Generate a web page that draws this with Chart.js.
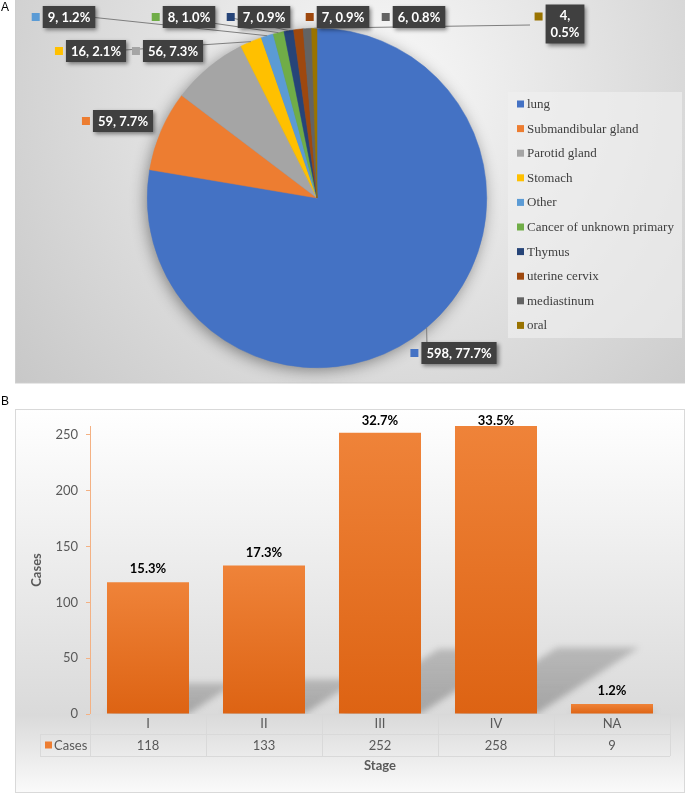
<!DOCTYPE html>
<html>
<head>
<meta charset="utf-8">
<script src="https://cdn.jsdelivr.net/npm/chart.js@4.4.0/dist/chart.umd.min.js"></script>
<style>
  body { margin: 0; background: #fff; }
  #wrapA { position: absolute; left: 0; top: 0; width: 685px; height: 384px; }
  #wrapB { position: absolute; left: 0; top: 384px; width: 685px; height: 410px; }
</style>
</head>
<body>
<div id="wrapA"><canvas id="pie"></canvas></div>
<div id="wrapB"><canvas id="bars"></canvas></div>
<script>
// ---- data (panel A) ----
var sites = ["lung", "Submandibular gland", "Parotid gland", "Stomach", "Other",
             "Cancer of unknown primary", "Thymus", "uterine cervix", "mediastinum", "oral"];
var siteCases = [598, 59, 56, 16, 9, 8, 7, 7, 6, 4];
var siteColors = ["#4472C4", "#ED7D31", "#A5A5A5", "#FFC000", "#5B9BD5",
                  "#70AD47", "#264478", "#9E480E", "#636363", "#997300"];

// ---- data (panel B) ----
var stages = ["I", "II", "III", "IV", "NA"];
var stageCases = [118, 133, 252, 258, 9];
var yTicks = [0, 50, 100, 150, 200, 250];

function sum(a) { return a.reduce(function (s, v) { return s + v; }, 0); }
var siteTotal = sum(siteCases);
var stageTotal = sum(stageCases);
function pct(v, t) { return (v / t * 100).toFixed(1) + "%"; }

// where the dark data-label boxes sit (box centre, optional leader-line start)
var pieLabelLayout = [
  { cx: 459, cy: 353, ax: 427, ay: 346 },
  { cx: 123, cy: 121 },
  { cx: 173, cy: 51 },
  { cx: 96, cy: 51, ax: 110, ay: 51 },
  { cx: 69, cy: 17, ax: 90, ay: 17 },
  { cx: 189, cy: 17, ax: 205, ay: 22 },
  { cx: 264, cy: 17, ax: 232, ay: 18 },
  { cx: 343, cy: 17 },
  { cx: 419, cy: 17 },
  { cx: 565, cy: 24, ax: 530, ay: 25, wrap: true }
];

var pieDecor = {
  id: "pieDecor",
  beforeDraw: function (chart) {
    var ctx = chart.ctx;
    ctx.save();
    ctx.fillStyle = "#fff";
    ctx.fillRect(0, 0, chart.width, chart.height);
    var g = ctx.createRadialGradient(380, 90, 10, 380, 90, 520);
    g.addColorStop(0, "#f8f8f8");
    g.addColorStop(1, "#c2c2c2");
    ctx.fillStyle = g;
    ctx.fillRect(15, 0, 670, 383);
    ctx.strokeStyle = "#cfcfcf";
    ctx.lineWidth = 1;
    ctx.strokeRect(15.5, -1, 670, 384);

    ctx.fillStyle = "#000";
    ctx.font = '12px "Liberation Sans", sans-serif';
    ctx.textBaseline = "middle";
    ctx.fillText("A", 1, 8);

    // legend
    ctx.fillStyle = "rgba(240,240,240,0.65)";
    ctx.fillRect(508, 92, 174, 246);
    ctx.font = '13px "Liberation Serif", "Times New Roman", "DejaVu Serif", serif';
    sites.forEach(function (name, i) {
      var y = 104 + i * 24.6;
      ctx.fillStyle = siteColors[i];
      ctx.fillRect(517, y - 3.5, 7, 7);
      ctx.fillStyle = "#404040";
      ctx.fillText(name, 527, y + 0.5);
    });
    ctx.restore();
  },
  beforeDatasetsDraw: function (chart) {
    var arc = chart.getDatasetMeta(0).data[0];
    if (!arc) return;
    var ctx = chart.ctx;
    ctx.save();
    ctx.shadowColor = "rgba(0,0,0,0.45)";
    ctx.shadowBlur = 16;
    ctx.shadowOffsetX = -2;
    ctx.shadowOffsetY = 3;
    ctx.fillStyle = "#4472C4";
    ctx.beginPath();
    ctx.arc(arc.x, arc.y, arc.outerRadius - 1, 0, Math.PI * 2);
    ctx.fill();
    ctx.restore();
  },
  afterDatasetsDraw: function (chart) {
    var ctx = chart.ctx;
    var arcs = chart.getDatasetMeta(0).data;
    ctx.save();
    // leader lines
    ctx.strokeStyle = "#7f7f7f";
    ctx.lineWidth = 1;
    arcs.forEach(function (a, i) {
      var L = pieLabelLayout[i];
      if (L.ax === undefined) return;
      var mid = (a.startAngle + a.endAngle) / 2;
      ctx.beginPath();
      ctx.moveTo(L.ax, L.ay);
      ctx.lineTo(a.x + Math.cos(mid) * a.outerRadius, a.y + Math.sin(mid) * a.outerRadius);
      ctx.stroke();
    });
    // label boxes
    ctx.font = "bold 13px Lato";
    ctx.textAlign = "center";
    ctx.textBaseline = "middle";
    siteCases.forEach(function (v, i) {
      var L = pieLabelLayout[i];
      var lines = L.wrap ? [v + ",", pct(v, siteTotal)] : [v + ", " + pct(v, siteTotal)];
      var w = Math.max.apply(null, lines.map(function (t) { return ctx.measureText(t).width; })) + 10;
      var h = lines.length * 17 + 5;
      var left = L.cx - w / 2, top = L.cy - h / 2;
      ctx.save();
      ctx.shadowColor = "rgba(0,0,0,0.45)";
      ctx.shadowBlur = 4;
      ctx.shadowOffsetX = 2;
      ctx.shadowOffsetY = 2;
      ctx.fillStyle = "#404040";
      ctx.fillRect(left, top, w, h);
      ctx.restore();
      ctx.fillStyle = siteColors[i];
      ctx.fillRect(left - 11, lines.length > 1 ? top + 8 : L.cy - 4, 8, 8);
      ctx.fillStyle = "#fff";
      lines.forEach(function (t, k) {
        ctx.fillText(t, L.cx, top + 11.5 + k * 17);
      });
    });
    ctx.restore();
  }
};

new Chart(document.getElementById("pie"), {
  type: "pie",
  data: {
    labels: sites,
    datasets: [{
      data: siteCases,
      backgroundColor: siteColors,
      borderColor: siteColors,
      borderWidth: 0.5,
      hoverOffset: 0
    }]
  },
  options: {
    responsive: true,
    maintainAspectRatio: false,
    animation: false,
    layout: { padding: { left: 147, right: 198, top: 28, bottom: 16 } },
    plugins: { legend: { display: false }, tooltip: { enabled: false } }
  },
  plugins: [pieDecor]
});

// ---- panel B ----
var barDecor = {
  id: "barDecor",
  beforeDraw: function (chart) {
    var ctx = chart.ctx;
    ctx.save();
    ctx.fillStyle = "#fff";
    ctx.fillRect(0, 0, chart.width, chart.height);
    var g = ctx.createLinearGradient(0, 25, 0, 408);
    g.addColorStop(0, "#ffffff");
    g.addColorStop(0.8, "#dadada");
    g.addColorStop(1, "#fafafa");
    ctx.fillStyle = g;
    ctx.fillRect(15, 25, 669, 383);
    ctx.strokeStyle = "#d9d9d9";
    ctx.lineWidth = 1;
    ctx.strokeRect(15.5, 25.5, 669, 383);
    ctx.fillStyle = "#000";
    ctx.font = '12px "Liberation Sans", sans-serif';
    ctx.textBaseline = "middle";
    ctx.fillText("B", 1, 18);
    ctx.restore();
  },
  beforeDatasetsDraw: function (chart) {
    var ctx = chart.ctx;
    var bars = chart.getDatasetMeta(0).data;
    ctx.save();
    ctx.beginPath();
    ctx.rect(0, 0, chart.width, chart.chartArea.bottom);
    ctx.clip();
    ctx.filter = "blur(3px)";
    bars.forEach(function (b) {
      var h = b.base - b.y, half = b.width / 2;
      var dx = h * 0.355, dy = h * 0.23;
      var g = ctx.createLinearGradient(0, b.base, 0, b.base - dy);
      g.addColorStop(0, "rgba(90,90,90,0.42)");
      g.addColorStop(1, "rgba(90,90,90,0.3)");
      ctx.fillStyle = g;
      ctx.beginPath();
      ctx.moveTo(b.x - half, b.base);
      ctx.lineTo(b.x + half, b.base);
      ctx.lineTo(b.x + half + dx, b.base - dy);
      ctx.lineTo(b.x - half + dx, b.base - dy);
      ctx.closePath();
      ctx.fill();
    });
    ctx.restore();
  },
  afterDatasetsDraw: function (chart) {
    var ctx = chart.ctx;
    var bars = chart.getDatasetMeta(0).data;
    ctx.save();
    ctx.font = "bold 13px Lato";
    ctx.fillStyle = "#000";
    ctx.textAlign = "center";
    ctx.textBaseline = "middle";
    bars.forEach(function (b, i) {
      ctx.fillText(pct(stageCases[i], stageTotal), b.x, Math.max(b.y - 13, 37));
    });
    ctx.restore();
  },
  afterDraw: function (chart) {
    // data table under the x axis
    var ctx = chart.ctx, ca = chart.chartArea;
    var n = stages.length, cw = (ca.right - ca.left) / n;
    var r0 = ca.bottom, r1 = ca.bottom + 20, r2 = ca.bottom + 42;
    ctx.save();
    ctx.strokeStyle = "#d9d9d9";
    ctx.lineWidth = 1;
    ctx.beginPath();
    for (var i = 0; i <= n; i++) {
      var x = Math.round(ca.left + i * cw) + 0.5;
      ctx.moveTo(x, r0); ctx.lineTo(x, r2);
    }
    ctx.moveTo(40.5, r1); ctx.lineTo(40.5, r2);
    ctx.moveTo(40, r1 + 0.5); ctx.lineTo(ca.right, r1 + 0.5);
    ctx.moveTo(40, r2 + 0.5); ctx.lineTo(ca.right, r2 + 0.5);
    ctx.stroke();

    ctx.font = "13px Lato";
    ctx.fillStyle = "#595959";
    ctx.textAlign = "center";
    ctx.textBaseline = "middle";
    var xs = chart.scales.x;
    stages.forEach(function (s, i) {
      var x = xs.getPixelForValue(i);
      ctx.fillText(s, x, (r0 + r1) / 2);
      ctx.fillText(String(stageCases[i]), x, (r1 + r2) / 2 + 0.5);
    });
    ctx.fillStyle = "#ED7D31";
    ctx.fillRect(45, (r1 + r2) / 2 - 3.5, 7, 7);
    ctx.fillStyle = "#595959";
    ctx.textAlign = "left";
    ctx.fillText(chart.data.datasets[0].label, 54, (r1 + r2) / 2 + 0.5);
    ctx.restore();
  }
};

function barFill(c) {
  var ch = c.chart;
  if (!ch.chartArea || !ch.scales.y) return "#ED7D31";
  var y = ch.scales.y;
  var top = y.getPixelForValue(c.raw), bot = y.getPixelForValue(0);
  if (!isFinite(top) || bot - top < 1) return "#ED7D31";
  var g = ch.ctx.createLinearGradient(0, top, 0, bot);
  g.addColorStop(0, "#EF8339");
  g.addColorStop(1, "#DD6313");
  return g;
}

new Chart(document.getElementById("bars"), {
  type: "bar",
  data: {
    labels: stages,
    datasets: [{
      label: "Cases",
      data: stageCases,
      backgroundColor: barFill,
      categoryPercentage: 1,
      barPercentage: 0.707
    }]
  },
  options: {
    responsive: true,
    maintainAspectRatio: false,
    animation: false,
    layout: { padding: { left: 25, right: 15, top: 42, bottom: 20 } },
    plugins: { legend: { display: false }, tooltip: { enabled: false } },
    scales: {
      x: {
        grid: { display: false },
        border: { display: true, color: "#d9d9d9" },
        ticks: { display: false },
        title: {
          display: true, text: "Stage", color: "#595959",
          font: { family: "Lato", size: 13, weight: "bold" },
          padding: { top: 0, bottom: 0 }
        },
        afterFit: function (s) { s.height = 60; }
      },
      y: {
        min: 0,
        max: 258,
        grid: { drawOnChartArea: false, drawTicks: true, tickLength: 4, color: "#f4b183" },
        border: { display: true, color: "#f4b183" },
        ticks: { color: "#595959", font: { family: "Lato", size: 13 }, padding: 8 },
        afterBuildTicks: function (s) { s.ticks = yTicks.map(function (v) { return { value: v }; }); },
        title: {
          display: true, text: "Cases", color: "#595959",
          font: { family: "Lato", size: 13, weight: "bold" },
          padding: { top: 4, bottom: 0 }
        },
        afterFit: function (s) { s.width = 65; }
      }
    }
  },
  plugins: [barDecor]
});
</script>
</body>
</html>
